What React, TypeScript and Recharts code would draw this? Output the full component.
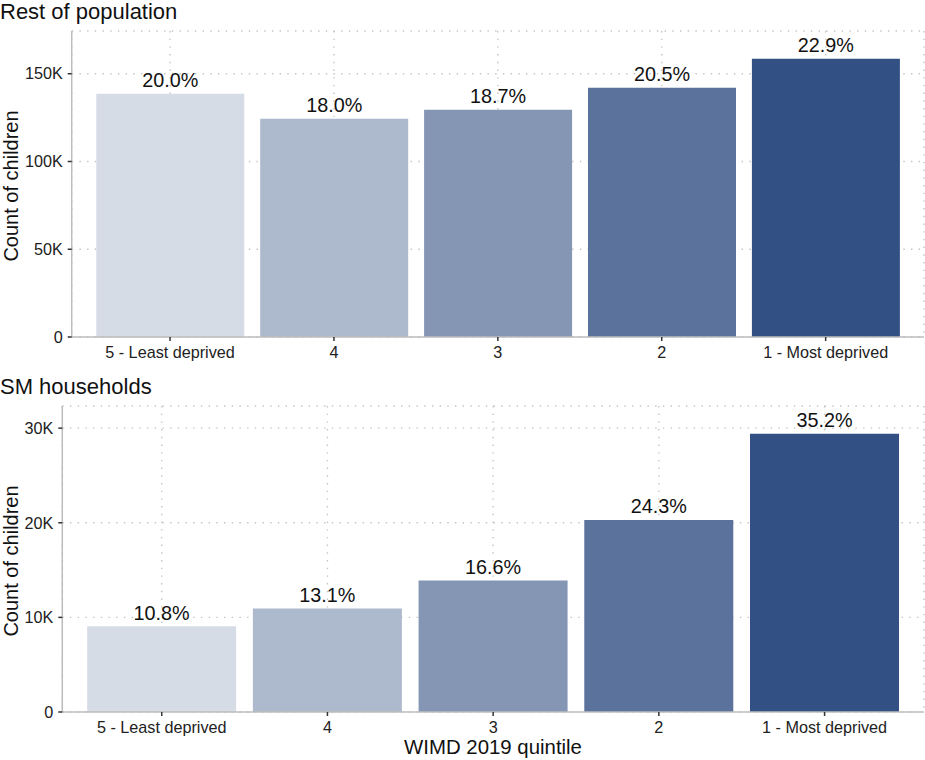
import { BarChart, Bar, XAxis, YAxis, CartesianGrid, LabelList, Cell } from 'recharts';

// Quintile order as shown on the x axis
const quintiles = ['5 - Least deprived', '4', '3', '2', '1 - Most deprived'];

// Rest of population: counts, shares from the labels
const restCounts = [138600, 124400, 129500, 142000, 158500];
const restShares = ['20.0%', '18.0%', '18.7%', '20.5%', '22.9%'];
const restTicks = [0, 50000, 100000, 150000];

// SM households
const smCounts = [9060, 10930, 13900, 20300, 29400];
const smShares = ['10.8%', '13.1%', '16.6%', '24.3%', '35.2%'];
const smTicks = [0, 10000, 20000, 30000];

const barColors = ['#d6dce6', '#adb9cc', '#8496b4', '#5b739c', '#325083'];

const FONT = '"Liberation Sans", Arial, sans-serif';
const CHART_W = 925;
const CHART_H = 365;

const formatK = (v: number) => (v === 0 ? '0' : `${v / 1000}K`);

type PanelProps = {
  title: string;
  counts: number[];
  shares: string[];
  ticks: number[];
  top: number;
  axisWidth: number;
};

function Panel({ title, counts, shares, ticks, top, axisWidth }: PanelProps) {
  const rows = quintiles.map((q, i) => ({ quintile: q, count: counts[i], share: shares[i] }));
  const yMax = Math.max(...counts) * 1.1;
  const marginRight = 1;
  const plotW = CHART_W - axisWidth - marginRight;
  // ggplot-style discrete expansion: 0.6 of a category on each side
  const pad = (plotW / 5.2) * 0.1;
  const plotTop = 31;
  const xAxisH = 28;
  const plotMid = top + plotTop + (CHART_H - plotTop - xAxisH) / 2;

  return (
    <>
      <div
        style={{
          position: 'absolute',
          left: 0,
          top,
          fontSize: 22,
          lineHeight: '24px',
          color: '#111',
          fontFamily: FONT,
          whiteSpace: 'nowrap',
        }}
      >
        {title}
      </div>
      <div
        style={{
          position: 'absolute',
          left: 11,
          top: plotMid + 2,
          transform: 'translate(-50%, -50%) rotate(-90deg)',
          fontSize: 20,
          color: '#111',
          fontFamily: FONT,
          whiteSpace: 'nowrap',
        }}
      >
        Count of children
      </div>
      <div style={{ position: 'absolute', left: 0, top }}>
        <BarChart
          width={CHART_W}
          height={CHART_H}
          data={rows}
          margin={{ top: plotTop, right: marginRight, bottom: 0, left: 0 }}
          barCategoryGap="5%"
        >
          <CartesianGrid stroke="#c4c4c4" strokeWidth={1.4} strokeDasharray="1.4 6.3" />
          <XAxis
            dataKey="quintile"
            height={xAxisH}
            padding={{ left: pad, right: pad }}
            tick={{ fill: '#222', fontSize: 16.2, fontFamily: FONT }}
            tickSize={4}
            tickMargin={5}
            tickLine={{ stroke: '#333', strokeWidth: 1.5 }}
            axisLine={{ stroke: '#bdbdbd', strokeWidth: 1.5 }}
            interval={0}
          />
          <YAxis
            type="number"
            domain={[0, yMax]}
            ticks={ticks}
            tickFormatter={formatK}
            width={axisWidth}
            tick={{ fill: '#222', fontSize: 16.2, fontFamily: FONT }}
            tickSize={4}
            tickMargin={5}
            tickLine={{ stroke: '#333', strokeWidth: 1.5 }}
            axisLine={{ stroke: '#bdbdbd', strokeWidth: 1.5 }}
            allowDataOverflow
          />
          <Bar dataKey="count" isAnimationActive={false}>
            {rows.map((r, i) => (
              <Cell key={r.quintile} fill={barColors[i]} />
            ))}
            <LabelList
              dataKey="share"
              position="top"
              offset={6.5}
              fill="#111"
              fontSize={19.8}
              fontFamily={FONT}
            />
          </Bar>
        </BarChart>
      </div>
    </>
  );
}

export default function App() {
  return (
    <div
      style={{
        position: 'absolute',
        left: 0,
        top: 0,
        width: CHART_W,
        height: 760,
        background: '#fff',
        fontFamily: FONT,
      }}
    >
      <Panel
        title="Rest of population"
        counts={restCounts}
        shares={restShares}
        ticks={restTicks}
        top={0}
        axisWidth={71.7}
      />
      <Panel
        title="SM households"
        counts={smCounts}
        shares={smShares}
        ticks={smTicks}
        top={375}
        axisWidth={62.3}
      />
      <div
        style={{
          position: 'absolute',
          left: 493,
          top: 747,
          transform: 'translate(-50%, -50%)',
          fontSize: 20.4,
          color: '#111',
          fontFamily: FONT,
          whiteSpace: 'nowrap',
        }}
      >
        WIMD 2019 quintile
      </div>
    </div>
  );
}
